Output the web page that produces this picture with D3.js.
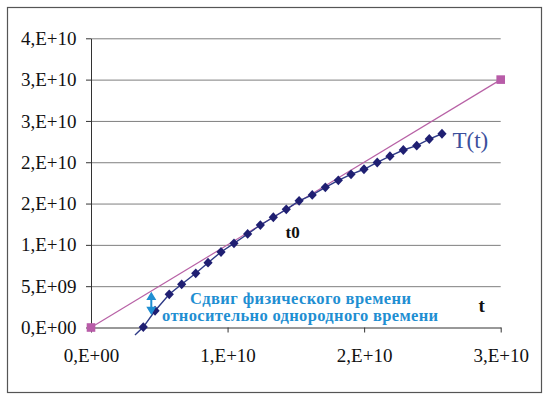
<!DOCTYPE html>
<html>
<head>
<meta charset="utf-8">
<script src="https://cdn.jsdelivr.net/npm/d3@7"></script>
<style>
  body { margin: 0; background: #fff; }
  svg text { font-family: 'Liberation Serif', 'Times New Roman', serif; }
</style>
</head>
<body>
<div class="graph"></div>
<script>
// axis ticks and their Excel-style labels
const yTicks = [0, 5e9, 1e10, 1.5e10, 2e10, 2.5e10, 3e10, 3.5e10];
const yTickLabels = ["0,E+00", "5,E+09", "1,E+10", "2,E+10", "2,E+10", "3,E+10", "3,E+10", "4,E+10"];
const xTicks = [0, 1e10, 2e10, 3e10];
const xTickLabels = ["0,E+00", "1,E+10", "2,E+10", "3,E+10"];

// physical time T(t)
const tValues = [3.83e9, 4.69e9, 5.73e9, 6.64e9, 7.67e9, 8.57e9, 9.52e9, 10.47e9,
  11.47e9, 12.40e9, 13.35e9, 14.30e9, 15.24e9, 16.20e9, 17.16e9, 18.11e9,
  19.04e9, 19.99e9, 20.96e9, 21.89e9, 22.87e9, 23.85e9, 24.77e9, 25.70e9];
const TValues = [0.05e9, 2.03e9, 4.02e9, 5.23e9, 6.56e9, 7.84e9, 9.14e9, 10.19e9,
  11.32e9, 12.40e9, 13.34e9, 14.30e9, 15.33e9, 16.04e9, 16.97e9, 17.81e9,
  18.54e9, 19.15e9, 19.97e9, 20.73e9, 21.48e9, 22.00e9, 22.81e9, 23.45e9];
// the blue line starts a little below the axis
const tailT = 3.22e9, tailValue = -0.9e9;

// uniform time (straight line)
const uniformT = [0, 3e10];
const uniformValues = [0, 3e10];

var W = 551, H = 398;
var serif = "'Liberation Serif', 'Times New Roman', serif";
var svg = d3.select(".graph").append("svg")
  .attr("width", W).attr("height", H);

// frame
svg.append("rect")
  .attr("x", 7.5).attr("y", 7.5)
  .attr("width", 534).attr("height", 385)
  .attr("fill", "#fff").attr("stroke", "#555").attr("stroke-width", 1.2);

var x = d3.scaleLinear().domain([0, 3e10]).range([91, 500.7]);
var y = d3.scaleLinear().domain([0, 3.5e10]).range([327.5, 38.3]);

// gridlines
svg.append("g")
  .attr("transform", "translate(91,0)")
  .call(d3.axisLeft(y).tickValues(yTicks.slice(1)).tickSize(-(500.7 - 91)).tickFormat(""))
  .call(g => g.select(".domain").remove())
  .call(g => g.selectAll("line").attr("stroke", "#7f7f7f").attr("stroke-width", 1));

// y axis
var yAxis = svg.append("g")
  .attr("transform", "translate(91,0)")
  .call(d3.axisLeft(y).tickValues(yTicks).tickSizeInner(5).tickSizeOuter(0)
    .tickPadding(9.5).tickFormat((d, i) => yTickLabels[i]));
yAxis.select(".domain").attr("stroke", "#333");
yAxis.selectAll("line").attr("stroke", "#333");
yAxis.selectAll("text").style("font-size", "19px").style("font-family", serif)
  .attr("fill", "#111");

// x axis
var xAxis = svg.append("g")
  .attr("transform", "translate(0,327.5)")
  .call(d3.axisBottom(x).tickValues(xTicks).tickSizeInner(5).tickSizeOuter(0)
    .tickFormat((d, i) => xTickLabels[i]));
xAxis.select(".domain").attr("stroke", "#333");
xAxis.selectAll("line").attr("stroke", "#333");
xAxis.selectAll("text").style("font-size", "19px").style("font-family", serif)
  .attr("fill", "#111")
  .attr("dy", 0).attr("y", 34);

// uniform time line + squares
var uniform = uniformT.map((d, i) => [d, uniformValues[i]]);
svg.append("path")
  .datum(uniform)
  .attr("fill", "none")
  .attr("stroke", "#b862a6")
  .attr("stroke-width", 1.2)
  .attr("d", d3.line().x(d => x(d[0])).y(d => y(d[1])));
svg.selectAll(".sq")
  .data(uniform)
  .enter().append("rect")
  .attr("x", d => x(d[0]) - 4.3).attr("y", d => y(d[1]) - 4.3)
  .attr("width", 8.6).attr("height", 8.6)
  .attr("fill", "#b85ca8");

// T(t) line + diamonds
var phys = tValues.map((d, i) => [d, TValues[i]]);
svg.append("path")
  .datum([[tailT, tailValue]].concat(phys))
  .attr("fill", "none")
  .attr("stroke", "#2e3a86")
  .attr("stroke-width", 1.4)
  .attr("d", d3.line().x(d => x(d[0])).y(d => y(d[1])));
svg.selectAll(".dm")
  .data(phys)
  .enter().append("path")
  .attr("transform", d => "translate(" + x(d[0]) + "," + y(d[1]) + ")")
  .attr("d", "M0,-4.9L4.6,0L0,4.9L-4.6,0Z")
  .attr("fill", "#1f1f72");

// labels
svg.append("text")
  .attr("x", 452.5).attr("y", 148)
  .style("font-size", "23px").attr("fill", "#3b4f9c")
  .text("T(t)");

svg.append("text")
  .attr("x", 285.5).attr("y", 238)
  .style("font-size", "17px").attr("font-weight", "bold").attr("fill", "#111")
  .text("t0");

svg.append("text")
  .attr("x", 478.5).attr("y", 311.5)
  .style("font-size", "19px").attr("font-weight", "bold").attr("fill", "#111")
  .text("t");

var note = svg.append("g")
  .style("font-size", "16.5px").attr("font-weight", "bold").attr("fill", "#1f8fd2");
note.append("text")
  .attr("x", 190).attr("y", 303.5)
  .attr("textLength", 221).attr("lengthAdjust", "spacing")
  .text("Сдвиг  физического  времени");
note.append("text")
  .attr("x", 162).attr("y", 321)
  .attr("textLength", 276).attr("lengthAdjust", "spacing")
  .text("относительно  однородного  времени");

// double arrow showing the shift
var ax = 151.3;
svg.append("path")
  .attr("d", "M" + (ax - 5) + ",300L" + ax + ",291.7L" + (ax + 5) + ",300Z" +
    "M" + (ax - 5) + ",306.7L" + ax + ",315L" + (ax + 5) + ",306.7Z")
  .attr("fill", "#1f8fd2");
svg.append("line")
  .attr("x1", ax).attr("x2", ax).attr("y1", 299).attr("y2", 308)
  .attr("stroke", "#1f8fd2").attr("stroke-width", 2);
</script>
</body>
</html>
